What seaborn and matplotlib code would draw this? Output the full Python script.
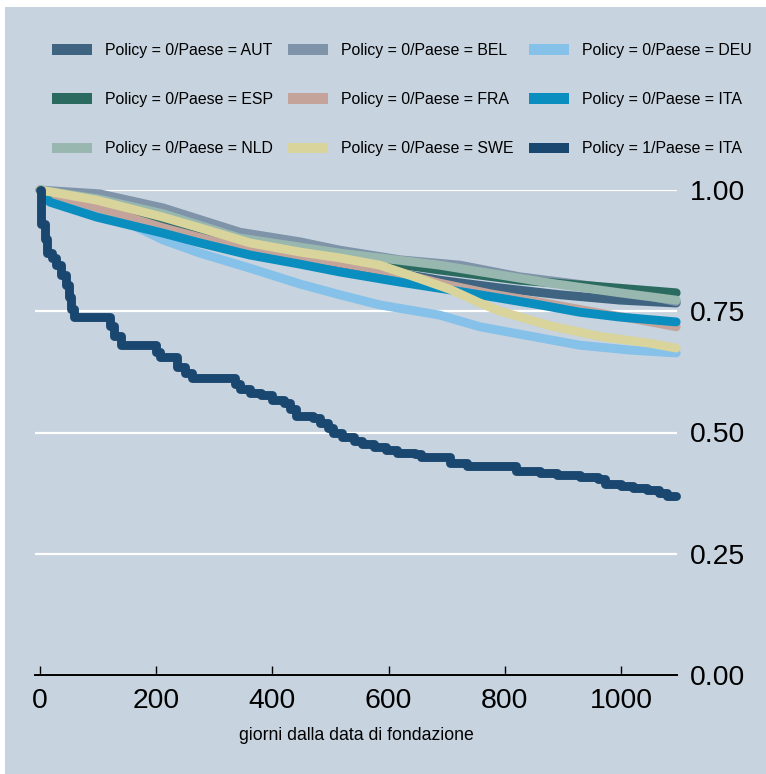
import pandas as pd
import seaborn as sns
import matplotlib.pyplot as plt
from matplotlib.patches import Patch, Rectangle
from matplotlib import font_manager

# etichette e colori (ordine della legenda = ordine di disegno)
gruppi = ["Policy = 0/Paese = AUT", "Policy = 0/Paese = BEL", "Policy = 0/Paese = DEU",
          "Policy = 0/Paese = ESP", "Policy = 0/Paese = FRA", "Policy = 0/Paese = ITA",
          "Policy = 0/Paese = NLD", "Policy = 0/Paese = SWE", "Policy = 1/Paese = ITA"]
colori = ["#3e6481", "#7f93a9", "#85c1e9", "#2b6b5f", "#c4a49a",
          "#0a8ec0", "#97b7af", "#d8d49c", "#1a476f"]

# curve di sopravvivenza (giorni, quota sopravvissuta)
aut_t = [0, 103, 212, 344, 516, 688, 792, 895, 998, 1095]
aut_s = [1.0, 0.969, 0.928, 0.878, 0.849, 0.814, 0.798, 0.784, 0.773, 0.767]
bel_t = [0, 103, 212, 344, 448, 516, 620, 723, 826, 964, 1033, 1095]
bel_s = [1.0, 0.992, 0.963, 0.913, 0.893, 0.876, 0.856, 0.845, 0.821, 0.800, 0.785, 0.770]
deu_t = [0, 103, 155, 212, 275, 361, 448, 516, 585, 688, 757, 843, 929, 1015, 1095]
deu_s = [1.0, 0.947, 0.930, 0.897, 0.870, 0.839, 0.806, 0.784, 0.763, 0.742, 0.718, 0.699, 0.680, 0.670, 0.664]
esp_t = [0, 103, 212, 344, 516, 688, 826, 929, 1033, 1095]
esp_s = [1.0, 0.975, 0.942, 0.897, 0.864, 0.835, 0.814, 0.804, 0.794, 0.788]
fra_t = [0, 103, 212, 344, 430, 516, 620, 688, 775, 878, 964, 1033, 1095]
fra_s = [1.0, 0.962, 0.922, 0.880, 0.866, 0.850, 0.828, 0.808, 0.786, 0.765, 0.746, 0.732, 0.718]
ita0_t = [0, 17, 98, 212, 275, 361, 448, 516, 620, 706, 792, 861, 929, 998, 1095]
ita0_s = [1.0, 0.975, 0.944, 0.911, 0.891, 0.866, 0.847, 0.831, 0.810, 0.794, 0.777, 0.763, 0.748, 0.738, 0.728]
nld_t = [0, 103, 212, 344, 516, 688, 878, 998, 1095]
nld_s = [1.0, 0.981, 0.951, 0.901, 0.870, 0.845, 0.808, 0.788, 0.773]
swe_t = [0, 98, 212, 275, 361, 448, 516, 585, 654, 706, 757, 792, 878, 964, 1050, 1095]
swe_s = [1.0, 0.979, 0.944, 0.922, 0.891, 0.872, 0.860, 0.845, 0.817, 0.795, 0.767, 0.750, 0.720, 0.698, 0.684, 0.674]
# Policy = 1 / ITA: funzione a gradini
ita1_t = [0, 2, 8, 12, 20, 28, 36, 44, 50, 54, 58, 120, 128, 140, 200, 206, 236, 250, 262,
          335, 345, 362, 380, 400, 420, 430, 440, 470, 482, 495, 505, 520, 540, 555, 575,
          595, 615, 645, 655, 705, 735, 820, 860, 890, 930, 960, 972, 1000, 1020, 1045,
          1065, 1080, 1095]
ita1_s = [1.0, 0.93, 0.90, 0.87, 0.86, 0.845, 0.825, 0.805, 0.78, 0.755, 0.738, 0.72, 0.70,
          0.68, 0.665, 0.656, 0.635, 0.622, 0.612, 0.60, 0.59, 0.582, 0.577, 0.567, 0.56,
          0.548, 0.535, 0.53, 0.52, 0.51, 0.50, 0.49, 0.482, 0.476, 0.47, 0.464, 0.458,
          0.455, 0.449, 0.437, 0.43, 0.421, 0.417, 0.412, 0.408, 0.404, 0.393, 0.39, 0.386,
          0.381, 0.375, 0.369, 0.369]

x_ticks = [0, 200, 400, 600, 800, 1000]
y_ticks = [0, 0.25, 0.5, 0.75, 1.0]
y_labels = ["0.00", "0.25", "0.50", "0.75", "1.00"]

curve = [(aut_t, aut_s), (bel_t, bel_s), (deu_t, deu_s), (esp_t, esp_s), (fra_t, fra_s),
         (ita0_t, ita0_s), (nld_t, nld_s), (swe_t, swe_s)]
righe = []
for g, (t, s) in zip(gruppi[:-1], curve):
    for a, b in zip(t, s):
        righe.append({"gruppo": g, "giorni": a, "sopravvivenza": b})
df = pd.DataFrame(righe)

fonts = {f.name for f in font_manager.fontManager.ttflist}
narrow = "Liberation Sans Narrow" in fonts
leg_font = "Liberation Sans Narrow" if narrow else "Liberation Sans"
leg_size = 13.8 if narrow else 11.4
fs_px = leg_size * 100 / 72
plt.rcParams["font.family"] = ["Liberation Sans", "DejaVu Sans"]

sfondo = "#c7d3df"
spessore = 6.4
fig = plt.figure(figsize=(7.66, 7.74), dpi=100, facecolor="white")
fig.patches.append(Rectangle((5 / 766, 0), 1, 767 / 774, transform=fig.transFigure,
                             facecolor=sfondo, edgecolor="none", zorder=-10))
ax = fig.add_axes([35 / 766, 99 / 774, 642 / 766, 485 / 774])
ax.set_facecolor(sfondo)

sns.lineplot(data=df, x="giorni", y="sopravvivenza", hue="gruppo", hue_order=gruppi[:-1],
             palette=colori[:-1], lw=spessore, solid_capstyle="round",
             solid_joinstyle="round", estimator=None, legend=False, clip_on=False, ax=ax)
sns.lineplot(x=ita1_t, y=ita1_s, drawstyle="steps-post", color=colori[-1], lw=spessore,
             solid_capstyle="round", solid_joinstyle="round", estimator=None,
             clip_on=False, ax=ax)

ax.set_xlim(-8.6, 1096.4)
ax.set_ylim(0, 1.0)
ax.set_xticks(x_ticks)
ax.set_yticks(y_ticks)
ax.set_yticklabels(y_labels)
ax.yaxis.tick_right()
ax.grid(axis="y", color="white", lw=1.6)
ax.set_axisbelow(True)
for lato in ["top", "left", "right"]:
    ax.spines[lato].set_visible(False)
ax.spines["bottom"].set_color("black")
ax.spines["bottom"].set_linewidth(1.4)
ax.spines["bottom"].set_zorder(5)
ax.tick_params(axis="x", direction="in", length=6.5, width=1, color="black",
               labelsize=20.4, pad=9)
ax.tick_params(axis="y", length=0, labelsize=20.4, pad=9.5)
ax.set_xlabel("giorni dalla data di fondazione", fontsize=12.7, labelpad=9.5)
ax.set_ylabel("")

# legenda riga per riga: matplotlib riempie per colonne
ordine = [0, 3, 6, 1, 4, 7, 2, 5, 8]
maniglie = [Patch(facecolor=colori[i], edgecolor="none", label=gruppi[i]) for i in ordine]
fig.legend(handles=maniglie, loc="upper left", bbox_to_anchor=(51.7 / 766, 1 - 43 / 774),
           ncol=3, frameon=False, borderpad=0, borderaxespad=0,
           prop={"family": leg_font, "size": leg_size},
           handlelength=40 / fs_px, handleheight=10 / fs_px, handletextpad=13.3 / fs_px,
           columnspacing=15 / fs_px, labelspacing=2.16)

fig.savefig("out.png", dpi=100, facecolor=fig.get_facecolor())
